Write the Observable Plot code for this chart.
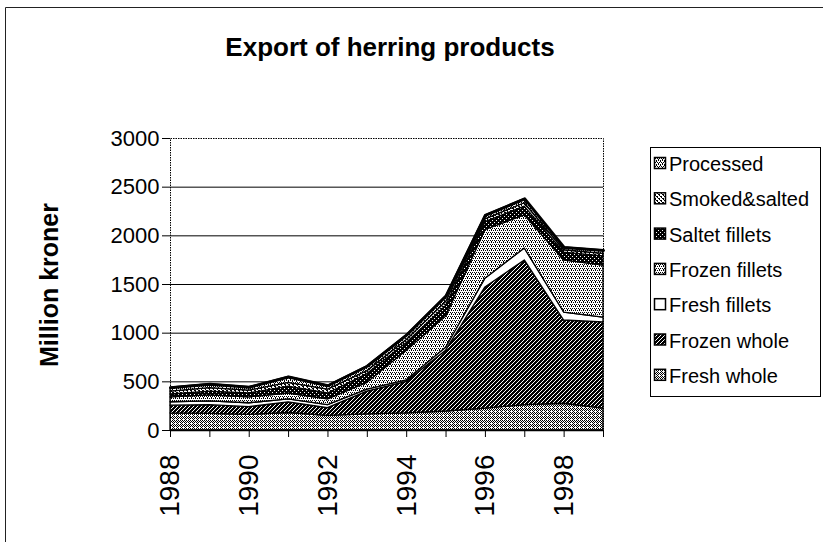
<!DOCTYPE html>
<html><head><meta charset="utf-8">
<script src="https://cdn.jsdelivr.net/npm/d3@7"></script>
<script src="https://cdn.jsdelivr.net/npm/@observablehq/plot@0.6"></script>
<style>
body{margin:0;background:#fff;}
svg{font-family:"Liberation Sans",Arial,sans-serif;}
</style>
</head><body><div id="chart"></div>
<script>
// ---- data ----
const years = [1988,1989,1990,1991,1992,1993,1994,1995,1996,1997,1998,1999];
const series = ["Fresh whole","Frozen whole","Fresh fillets","Frozen fillets","Saltet fillets","Smoked&salted","Processed"];
const freshWhole    = [175,170,160,180,150,165,175,195,225,260,275,225];
const frozenWhole   = [ 80, 90, 80,110, 80,235,325,625,1245,1487,855,885];
const freshFillets  = [ 35, 40, 40, 30, 30, 20, 15, 30, 90,123, 82, 50];
const frozenFillets = [ 50, 60, 60, 60, 60, 70,305,320,500,340,535,535];
const saltetFillets = [ 30, 40, 40, 70, 60, 90, 80,110, 80, 90, 80, 95];
const smokedSalted  = [ 30, 35, 30, 40, 40, 30, 30, 40, 30, 35, 25, 25];
const processed     = [ 40, 40, 35, 60, 40, 50, 50, 60, 40, 45, 28, 35];
const values = [freshWhole, frozenWhole, freshFillets, frozenFillets, saltetFillets, smokedSalted, processed];
const yTicks = [0,500,1000,1500,2000,2500,3000];
const gridTicks = [500,1000,1500,2000,2500];
const labelYears = [1988,1990,1992,1994,1996,1998];
const legendOrder = ["Processed","Smoked&salted","Saltet fillets","Frozen fillets","Fresh fillets","Frozen whole","Fresh whole"];
const title = "Export of herring products";
const yTitle = "Million kroner";

const data = [];
series.forEach((s, k) => values[k].forEach((v, i) => data.push({year: years[i], series: s, value: v})));

// ---- pattern ids (style) ----
const pid = {
  "Fresh whole":"pFW", "Frozen whole":"pZW", "Fresh fillets":"pFF", "Frozen fillets":"pZF",
  "Saltet fillets":"pSF", "Smoked&salted":"pSS", "Processed":"pPR"
};

const plot = Plot.plot({
  width: 823, height: 542,
  marginLeft: 170, marginRight: 220, marginTop: 138, marginBottom: 112,
  x: {domain: [1988, 1999]},
  y: {domain: [0, 3000]},
  color: {domain: series, range: series.map(s => `url(#${pid[s]})`)},
  style: {fontFamily: '"Liberation Sans", Arial, sans-serif', color: "black", background: "white", overflow: "visible"},
  marks: [
    Plot.ruleY(gridTicks, {stroke: "black", strokeWidth: 1}),
    Plot.areaY(data, {x: "year", y: "value", z: "series", fill: "series", order: series, stroke: "black", strokeWidth: 1.3}),
    Plot.lineY(data, Plot.groupX({y: "sum"}, {x: "year", y: "value", stroke: "black", strokeWidth: 3})),
    Plot.frame({stroke: "black", strokeDasharray: "1.5,1"}),
    Plot.axisY({ticks: yTicks, tickSize: 8, tickPadding: 3, label: null, fontSize: 22, tickFormat: d => String(d)}),
    Plot.axisX({ticks: years, tickSize: 7, tickFormat: () => "", label: null}),
    Plot.axisX({ticks: labelYears, tickSize: 0, tickPadding: 24, tickRotate: -90, tickFormat: d => String(d), fontSize: 28, label: null}),
    Plot.ruleY([0], {stroke: "black", strokeWidth: 1.5})
  ]
});
document.getElementById("chart").appendChild(plot);

const svg = d3.select(plot);
const defs = svg.insert("defs", ":first-child");
function pat(id, size, bg, fg, pixels) {
  const p = defs.append("pattern").attr("id", id).attr("patternUnits", "userSpaceOnUse")
    .attr("width", size).attr("height", size);
  p.append("rect").attr("width", size).attr("height", size).attr("fill", bg);
  pixels.forEach(([x, y]) => p.append("rect").attr("x", x).attr("y", y).attr("width", 1).attr("height", 1).attr("fill", fg));
}
pat("pFW", 4, "white", "black", [[0,0],[2,0],[1,1],[3,1],[0,2],[2,2],[1,3]]);
pat("pZW", 4, "white", "black", [[0,0],[2,0],[1,1],[3,1],[0,2],[2,2],[1,3],[3,3],[1,0],[3,2],[0,1],[2,3]]);
pat("pFF", 4, "white", "black", []);
pat("pZF", 4, "white", "black", [[0,0],[2,0],[1,2],[3,2],[3,1]]);
pat("pSF", 4, "black", "white", [[0,0],[2,2]]);
pat("pSS", 4, "white", "black", [[0,0],[1,0],[2,2],[3,2],[1,1],[3,3]]);
pat("pPR", 4, "white", "black", [[0,0],[2,0],[1,2],[3,2],[0,1],[2,3]]);

// outer chart frame
svg.append("line").attr("x1", 5.5).attr("x2", 823).attr("y1", 7.5).attr("y2", 7.5).attr("stroke", "#222");
svg.append("line").attr("x1", 5.5).attr("x2", 5.5).attr("y1", 7.5).attr("y2", 542).attr("stroke", "#222");

// title
svg.append("text").attr("x", 390).attr("y", 56).attr("text-anchor", "middle")
  .attr("font-size", 26).attr("font-weight", "bold").text(title);
// y title
svg.append("text").attr("transform", "translate(58,285) rotate(-90)").attr("text-anchor", "middle")
  .attr("font-size", 25).attr("font-weight", "bold").text(yTitle);

// legend
const lg = svg.append("g").attr("text-anchor", "start");
lg.append("rect").attr("x", 650.5).attr("y", 147.5).attr("width", 170).attr("height", 249)
  .attr("fill", "white").attr("stroke", "black");
legendOrder.forEach((s, i) => {
  const cy = 164 + i * 35.3;
  lg.append("rect").attr("x", 654.5).attr("y", cy - 6.5).attr("width", 11).attr("height", 11)
    .attr("fill", `url(#${pid[s]})`).attr("stroke", "black").attr("stroke-width", 1.5);
  lg.append("text").attr("x", 669).attr("y", cy).attr("dy", "0.35em").attr("text-anchor", "start")
    .attr("font-size", 20).text(s);
});
</script>
</body></html>
